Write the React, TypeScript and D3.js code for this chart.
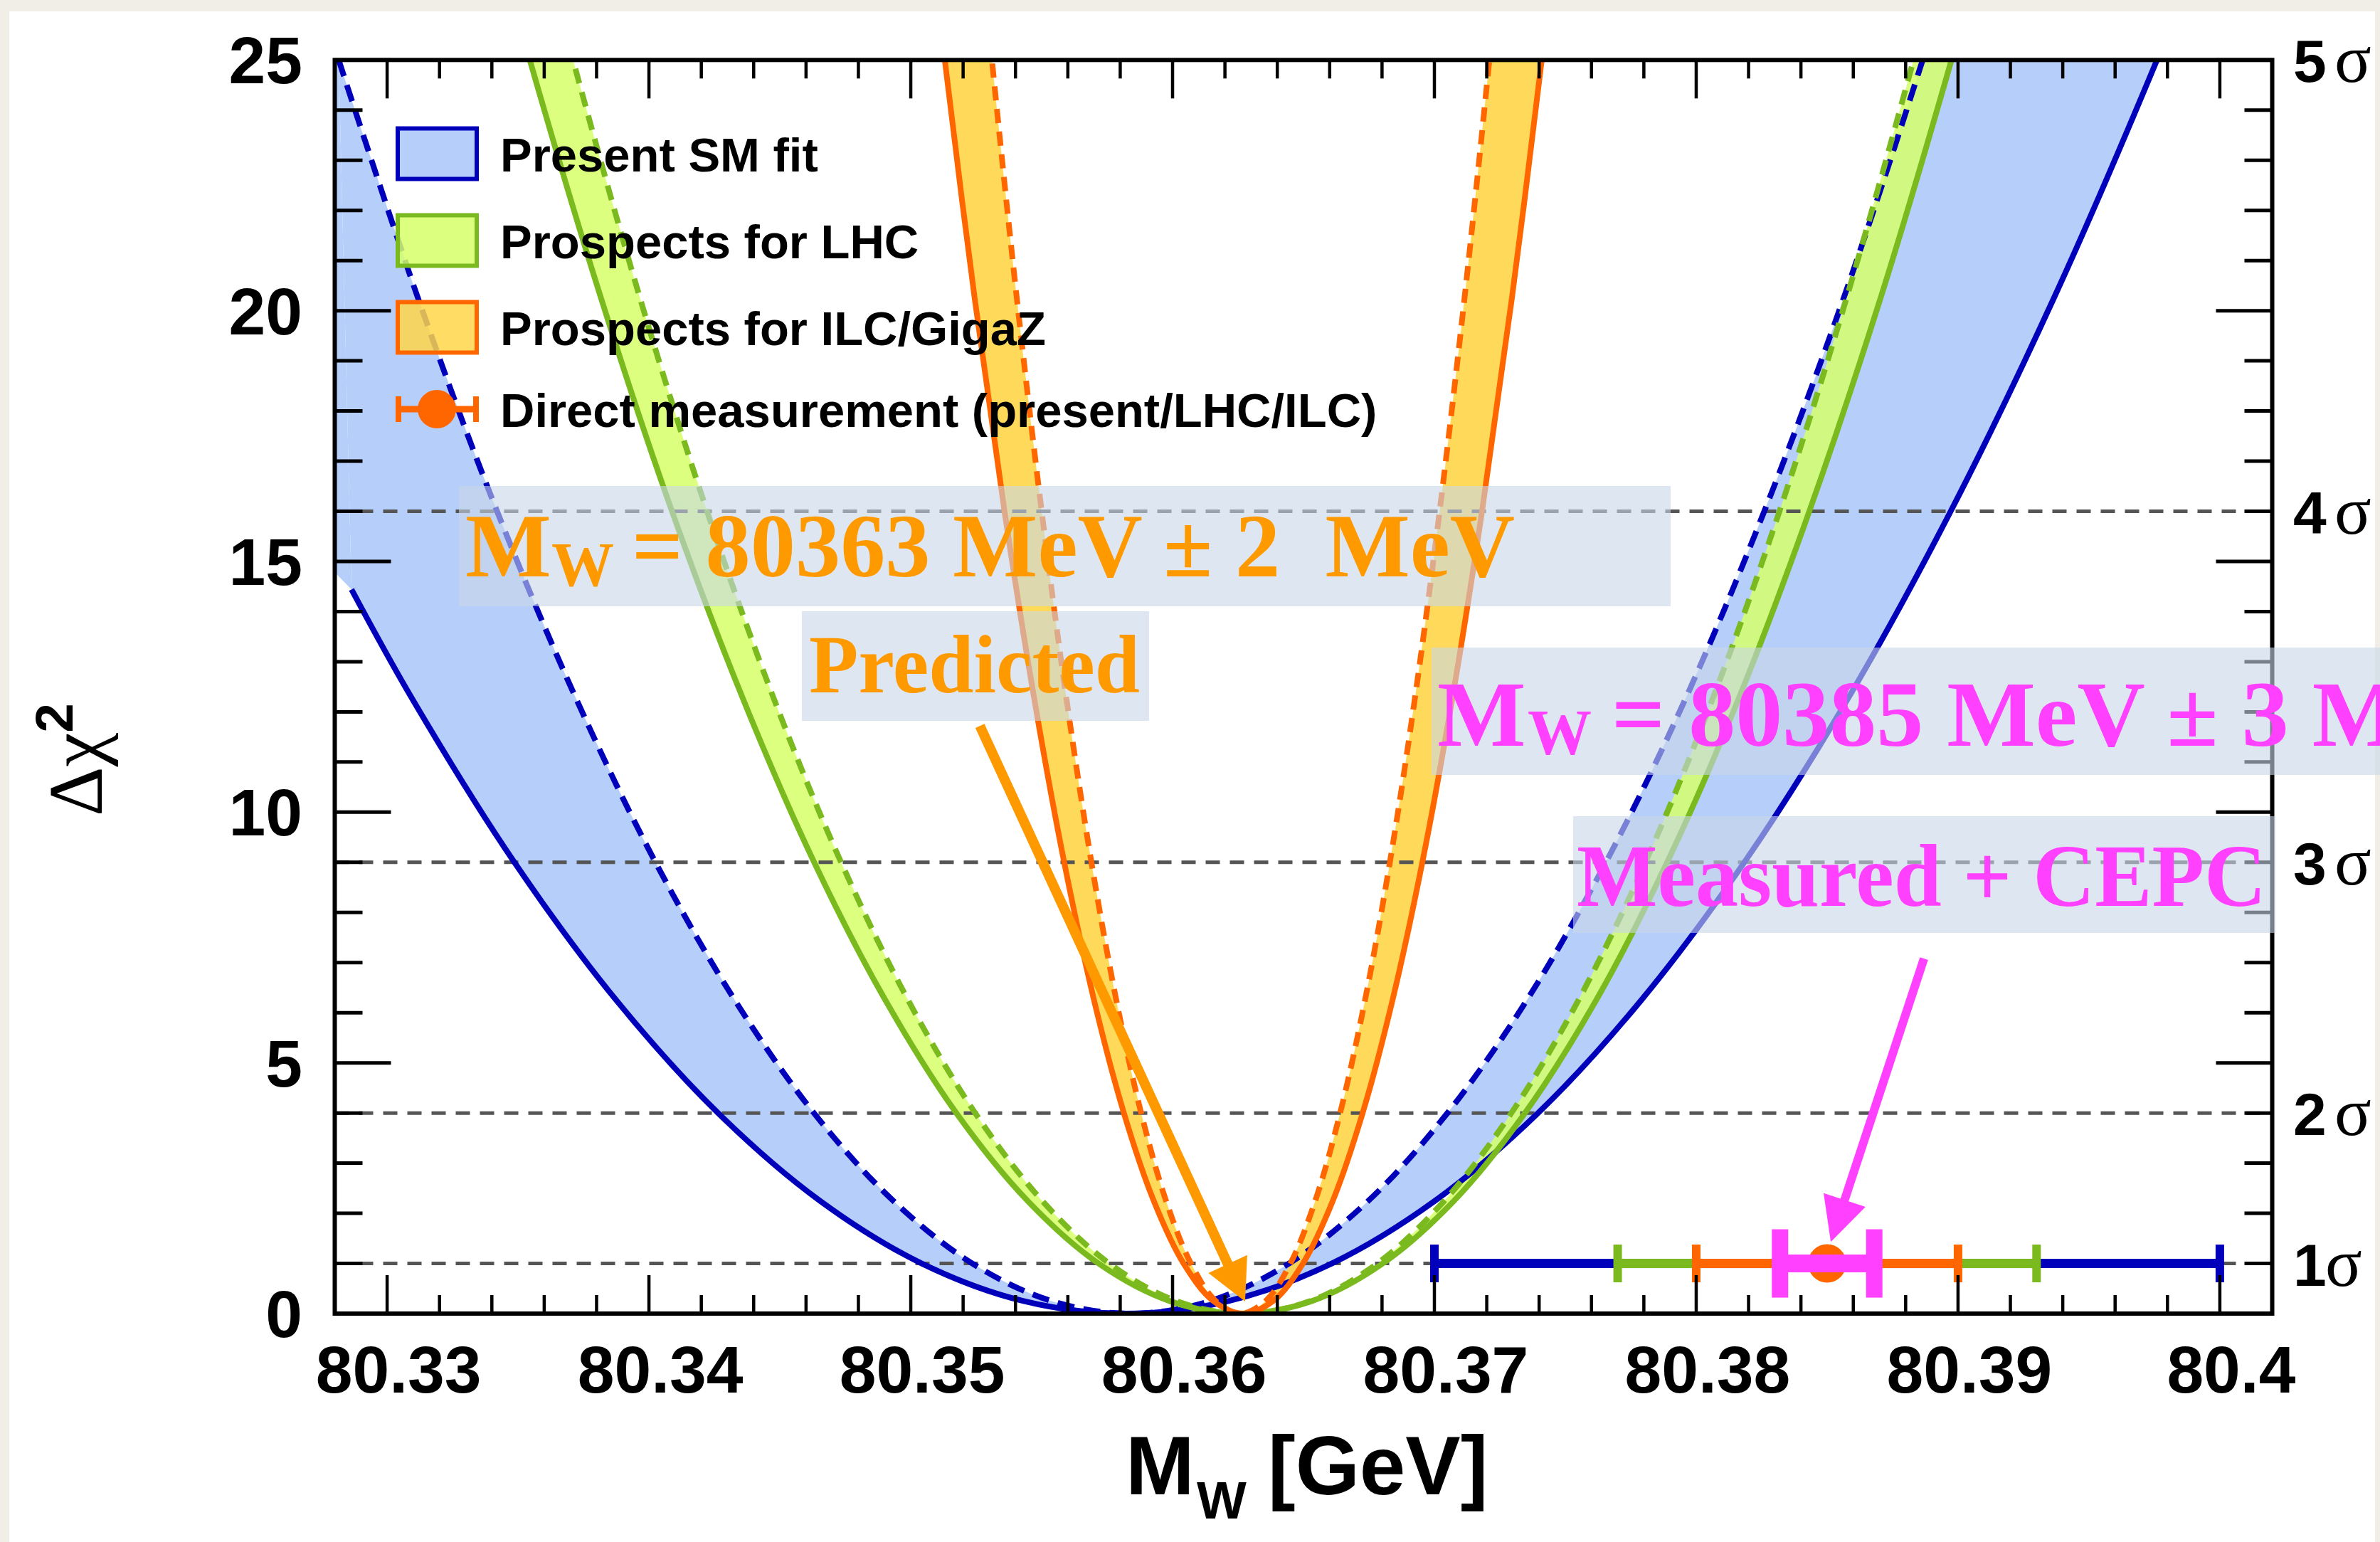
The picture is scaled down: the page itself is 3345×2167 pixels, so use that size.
import React from "react";
import * as d3 from "d3";

const WIDTH = 3345;
const HEIGHT = 2167;

const X_DOMAIN: [number, number] = [80.328, 80.402];
const Y_DOMAIN: [number, number] = [0, 25];

const xMajorTicks = [80.33, 80.34, 80.35, 80.36, 80.37, 80.38, 80.39, 80.4];
const xTickLabels = ["80.33", "80.34", "80.35", "80.36", "80.37", "80.38", "80.39", "80.4"];
const yMajorTicks = [0, 5, 10, 15, 20, 25];
const yTickLabels = ["0", "5", "10", "15", "20", "25"];
const sigmaLevels = [1, 4, 9, 16, 25];
const sigmaNumbers = ["1", "2", "3", "4", "5"];
const sigmaLines = [1, 4, 9, 16];

type P = [number, number];

// Present SM fit (blue): solid and dashed
const smFitSolid: P[] = [
  [80.32864, 14.44], [80.33097, 12.25], [80.33486, 9.0], [80.33875, 6.25], [80.34264, 4.0],
  [80.34653, 2.25], [80.35042, 1.0], [80.35431, 0.25], [80.3582, 0.0], [80.36214, 0.25],
  [80.36608, 1.0], [80.37002, 2.25], [80.37396, 4.0], [80.3779, 6.25], [80.38184, 9.0],
  [80.38578, 12.25], [80.38972, 16.0], [80.39366, 20.25], [80.3976, 25.0], [80.39996, 28.09],
];
const smFitDashed: P[] = [
  [80.32815, 25.0], [80.33118, 20.25], [80.3342, 16.0], [80.33723, 12.25], [80.34025, 9.0],
  [80.34328, 6.25], [80.3463, 4.0], [80.34933, 2.25], [80.35235, 1.0], [80.35538, 0.25],
  [80.3584, 0.0], [80.36143, 0.25], [80.36445, 1.0], [80.36748, 2.25], [80.3705, 4.0],
  [80.37353, 6.25], [80.37655, 9.0], [80.37958, 12.25], [80.3826, 16.0], [80.38563, 20.25],
  [80.38865, 25.0], [80.39047, 28.09],
];
// where the blue band meets the left frame (band reaches the frame above Δχ² ≈ 15)
const smFitBandLeftEdge: P[] = [[80.3276, 15.0], [80.3276, 26.0]];

// Prospects for LHC (green)
const lhcSolid: P[] = [
  [80.33382, 28.09], [80.33545, 25.0], [80.33817, 20.25], [80.34088, 16.0], [80.3436, 12.25],
  [80.34631, 9.0], [80.34903, 6.25], [80.35174, 4.0], [80.35446, 2.25], [80.35717, 1.0],
  [80.35989, 0.25], [80.3626, 0.0], [80.36532, 0.25], [80.36803, 1.0], [80.37075, 2.25],
  [80.37346, 4.0], [80.37618, 6.25], [80.37889, 9.0], [80.38161, 12.25], [80.38432, 16.0],
  [80.38704, 20.25], [80.38975, 25.0], [80.39138, 28.09],
];
const lhcDashed: P[] = [
  [80.33556, 28.09], [80.3371, 25.0], [80.33966, 20.25], [80.34222, 16.0], [80.34478, 12.25],
  [80.34734, 9.0], [80.3499, 6.25], [80.35246, 4.0], [80.35502, 2.25], [80.35758, 1.0],
  [80.36014, 0.25], [80.3627, 0.0], [80.36526, 0.25], [80.36782, 1.0], [80.37038, 2.25],
  [80.37294, 4.0], [80.3755, 6.25], [80.37806, 9.0], [80.38062, 12.25], [80.38318, 16.0],
  [80.38574, 20.25], [80.3883, 25.0], [80.38984, 28.09],
];
// Prospects for ILC/GigaZ (orange)
const ilcSolid: P[] = [
  [80.35062, 28.09], [80.3513, 25.0], [80.35244, 20.25], [80.35358, 16.0], [80.35472, 12.25],
  [80.35586, 9.0], [80.357, 6.25], [80.35814, 4.0], [80.35928, 2.25], [80.36042, 1.0],
  [80.36156, 0.25], [80.3627, 0.0], [80.36384, 0.25], [80.36498, 1.0], [80.36612, 2.25],
  [80.36726, 4.0], [80.3684, 6.25], [80.36954, 9.0], [80.37068, 12.25], [80.37182, 16.0],
  [80.37296, 20.25], [80.3741, 25.0], [80.37478, 28.09],
];
const ilcDashed: P[] = [
  [80.35253, 28.09], [80.3531, 25.0], [80.35405, 20.25], [80.355, 16.0], [80.35595, 12.25],
  [80.3569, 9.0], [80.35785, 6.25], [80.3588, 4.0], [80.35975, 2.25], [80.3607, 1.0],
  [80.36165, 0.25], [80.3626, 0.0], [80.36355, 0.25], [80.3645, 1.0], [80.36545, 2.25],
  [80.3664, 4.0], [80.36735, 6.25], [80.3683, 9.0], [80.36925, 12.25], [80.3702, 16.0],
  [80.37115, 20.25], [80.3721, 25.0], [80.37267, 28.09],
];

const legendLabels = [
  "Present SM fit",
  "Prospects for LHC",
  "Prospects for ILC/GigaZ",
  "Direct measurement (present/LHC/ILC)",
];

// Direct measurement error bars at Δχ² = 1
const measCentral = 80.385;
const measLevel = 1;
const measHalfErrors = [0.015, 0.008, 0.005, 0.0018];
const measColors = ["#0000bb", "#7aba1e", "#ff6600", "#ff40ff"];

const predictedArrow: P[] = [[80.35264, 11.72], [80.36277, 0.24]];
const measuredArrow: P[] = [[80.3887, 7.08], [80.38514, 1.43]];

const SANS = "'Liberation Sans', Arial, Helvetica, sans-serif";
const SERIF = "'Liberation Serif', 'Times New Roman', serif";

const BLUE = "#0000bb";
const BLUE_FILL = "#b6cefa";
const GREEN = "#7aba1e";
const GREEN_FILL = "#d6ff6a";
const ORANGE = "#ff6600";
const YELLOW_FILL = "#ffd648";
const ANNO_ORANGE = "#ff9900";
const MAGENTA = "#ff40ff";
const BOX_FILL = "#c8d7e8";

function arrow(x0: number, y0: number, x1: number, y1: number, headLen: number, headHalf: number) {
  const dx = x1 - x0;
  const dy = y1 - y0;
  const len = Math.hypot(dx, dy);
  const ux = dx / len;
  const uy = dy / len;
  const bx = x1 - ux * headLen;
  const by = y1 - uy * headLen;
  const px = -uy;
  const py = ux;
  const head = `${x1},${y1} ${bx + px * headHalf},${by + py * headHalf} ${bx - px * headHalf},${by - py * headHalf}`;
  return { shaft: { x1: x0, y1: y0, x2: bx + ux * 5, y2: by + uy * 5 }, head };
}

export default function App() {
  const left = 470.5;
  const right = 3193.5;
  const top = 84.3;
  const bottom = 1846;
  const x = d3.scaleLinear().domain(X_DOMAIN).range([left, right]);
  const y = d3.scaleLinear().domain(Y_DOMAIN).range([bottom, top]);

  const line = d3
    .line<P>()
    .x((d) => x(d[0]))
    .y((d) => y(d[1]))
    .curve(d3.curveCatmullRom.alpha(0.5));
  const band = (outer: P[], inner: P[]) => (line([...outer, ...inner.slice().reverse()]) || "") + "Z";
  const linear = d3.line<P>().x((d) => x(d[0])).y((d) => y(d[1]));

  const xTicksAll = d3.range(0, 36).map((i) => ({ v: 80.33 + i * 0.002, major: i % 5 === 0 }));
  const yTicksAll = d3.range(0, 26).map((i) => ({ v: i, major: i % 5 === 0 }));

  const legendRows = [216, 338, 460, 575];
  const yMeas = y(measLevel);

  const pa = arrow(x(predictedArrow[0][0]), y(predictedArrow[0][1]), x(predictedArrow[1][0]), y(predictedArrow[1][1]), 58, 30);
  const ma = arrow(x(measuredArrow[0][0]), y(measuredArrow[0][1]), x(measuredArrow[1][0]), y(measuredArrow[1][1]), 62, 31);

  const LW = 8;

  return (
    <svg
      width={WIDTH}
      height={HEIGHT}
      viewBox={`0 0 ${WIDTH} ${HEIGHT}`}
      style={{ position: "absolute", left: 0, top: 0, display: "block" }}
    >
      <defs>
        <clipPath id="plotClip">
          <rect x={left} y={top} width={right - left} height={bottom - top} />
        </clipPath>
      </defs>
      <rect x={0} y={0} width={WIDTH} height={HEIGHT} fill="#f1eee8" />
      <rect x={13} y={16} width={3325} height={HEIGHT - 16} fill="#ffffff" />

      <g clipPath="url(#plotClip)">
        <path d={band(smFitSolid, smFitDashed)} fill={BLUE_FILL} stroke="none" />
        <path
          d={(linear([smFitBandLeftEdge[0], smFitSolid[0], smFitDashed[0], smFitBandLeftEdge[1]]) || "") + "Z"}
          fill={BLUE_FILL}
          stroke="none"
        />
        <path d={band(lhcSolid, lhcDashed)} fill={GREEN_FILL} fillOpacity={0.85} stroke="none" />
        <path d={band(ilcSolid, ilcDashed)} fill={YELLOW_FILL} fillOpacity={0.9} stroke="none" />

        {sigmaLines.map((s) => (
          <line key={s} x1={left} x2={right} y1={y(s)} y2={y(s)} stroke="#555555" strokeWidth={5} strokeDasharray="20 14" />
        ))}

        <path d={line(smFitSolid) || ""} fill="none" stroke={BLUE} strokeWidth={LW} />
        <path d={line(smFitDashed) || ""} fill="none" stroke={BLUE} strokeWidth={LW} strokeDasharray="24 13" />
        <path d={line(lhcSolid) || ""} fill="none" stroke={GREEN} strokeWidth={LW} />
        <path d={line(lhcDashed) || ""} fill="none" stroke={GREEN} strokeWidth={LW} strokeDasharray="21 13" />
        <path d={line(ilcSolid) || ""} fill="none" stroke={ORANGE} strokeWidth={LW} />
        <path d={line(ilcDashed) || ""} fill="none" stroke={ORANGE} strokeWidth={LW} strokeDasharray="20 12" />

        {/* direct measurement error bars */}
        {measHalfErrors.map((e, i) => {
          const isC = i === 3;
          const th = isC ? 25 : 13;
          const capH = isC ? 96 : 53;
          const capW = isC ? 23 : 12;
          const xl = x(measCentral - e);
          const xr = x(measCentral + e);
          return (
            <g key={i}>
              {i === 3 && <circle cx={x(measCentral)} cy={yMeas} r={27} fill={ORANGE} />}
              <rect x={xl} y={yMeas - th / 2} width={xr - xl} height={th} fill={measColors[i]} />
              <rect x={xl - capW / 2} y={yMeas - capH / 2} width={capW} height={capH} fill={measColors[i]} />
              <rect x={xr - capW / 2} y={yMeas - capH / 2} width={capW} height={capH} fill={measColors[i]} />
            </g>
          );
        })}
      </g>

      {/* arrows */}
      <line {...pa.shaft} stroke={ANNO_ORANGE} strokeWidth={14} />
      <polygon points={pa.head} fill={ANNO_ORANGE} />
      <line {...ma.shaft} stroke={MAGENTA} strokeWidth={12} />
      <polygon points={ma.head} fill={MAGENTA} />

      {/* frame and ticks */}
      <g stroke="#000" fill="none">
        {xTicksAll.map((t, i) => {
          const len = t.major ? 54 : 26;
          const xx = x(t.v);
          return (
            <g key={i}>
              <line x1={xx} x2={xx} y1={bottom} y2={bottom - len} strokeWidth={4.5} />
              <line x1={xx} x2={xx} y1={top} y2={top + len} strokeWidth={4.5} />
            </g>
          );
        })}
        {yTicksAll.map((t, i) => {
          const len = t.major ? 79 : 39;
          const yy = y(t.v);
          return (
            <g key={i}>
              <line x1={left} x2={left + len} y1={yy} y2={yy} strokeWidth={5} />
              <line x1={right} x2={right - len} y1={yy} y2={yy} strokeWidth={5} />
            </g>
          );
        })}
        <rect x={left} y={top} width={right - left} height={bottom - top} strokeWidth={6} />
      </g>

      {/* tick labels */}
      <g fontFamily={SANS} fontWeight="bold" fontSize={93} fill="#000">
        {yMajorTicks.map((v, i) => (
          <text key={v} x={425} y={y(v) + 33} textAnchor="end">
            {yTickLabels[i]}
          </text>
        ))}
        {xMajorTicks.map((v, i) => (
          <text key={v} x={x(v) + 16} y={1957} textAnchor="middle">
            {xTickLabels[i]}
          </text>
        ))}
      </g>

      {/* sigma labels on the right */}
      {sigmaLevels.map((s, i) => (
        <g key={s}>
          <text x={3223} y={y(s) + 31} fontFamily={SANS} fontWeight="bold" fontSize={84}>
            {sigmaNumbers[i]}
          </text>
          <text x={i === 0 ? 3268 : 3281} y={y(s) + 31} fontFamily={SERIF} fontSize={96}>
            σ
          </text>
        </g>
      ))}

      {/* axis titles */}
      <g fontFamily={SANS} fontWeight="bold" fill="#000">
        <text x={1582} y={2100} fontSize={116}>M</text>
        <text x={1682} y={2134} fontSize={74}>W</text>
        <text x={1782} y={2100} fontSize={116}>[GeV]</text>
      </g>
      <text transform="translate(143,1147) rotate(-90)" fill="#000">
        <tspan fontFamily={SERIF} fontSize={108}>Δχ</tspan>
        <tspan fontFamily={SANS} fontWeight="bold" fontSize={74} dy={-41}>2</tspan>
      </text>

      {/* legend */}
      <g>
        <rect x={559} y={legendRows[0] - 35.5} width={111} height={71} fill={BLUE_FILL} stroke={BLUE} strokeWidth={6} />
        <rect x={559} y={legendRows[1] - 35.5} width={111} height={71} fill={GREEN_FILL} fillOpacity={0.85} stroke={GREEN} strokeWidth={6} />
        <rect x={559} y={legendRows[2] - 35.5} width={111} height={71} fill={YELLOW_FILL} fillOpacity={0.85} stroke={ORANGE} strokeWidth={6} />
        <line x1={558} x2={671} y1={legendRows[3]} y2={legendRows[3]} stroke={ORANGE} strokeWidth={9} />
        <line x1={560} x2={560} y1={legendRows[3] - 18} y2={legendRows[3] + 18} stroke={ORANGE} strokeWidth={8} />
        <line x1={669} x2={669} y1={legendRows[3] - 18} y2={legendRows[3] + 18} stroke={ORANGE} strokeWidth={8} />
        <circle cx={614} cy={legendRows[3]} r={27} fill={ORANGE} />
        {legendLabels.map((t, i) => (
          <text key={t} x={703} y={legendRows[i] + 25} fontFamily={SANS} fontWeight="bold" fontSize={67} fill="#000">
            {t}
          </text>
        ))}
      </g>

      {/* annotation boxes */}
      <rect x={645} y={683} width={1703} height={169} fill={BOX_FILL} fillOpacity={0.6} />
      <rect x={1127} y={859} width={488} height={154} fill={BOX_FILL} fillOpacity={0.6} />
      <rect x={2012} y={910} width={1400} height={179} fill={BOX_FILL} fillOpacity={0.6} />
      <rect x={2211} y={1147} width={987} height={164} fill={BOX_FILL} fillOpacity={0.6} />

      <g fontFamily={SERIF} fontWeight="bold" fill={ANNO_ORANGE} style={{ whiteSpace: "pre" }}>
        <text x={654} y={810} fontSize={128}>M</text>
        <text x={775} y={823} fontSize={88}>W</text>
        <text x={888} y={810} fontSize={128} textLength={1241} lengthAdjust="spacingAndGlyphs" xmlSpace="preserve">
          {"= 80363 MeV ± 2  MeV"}
        </text>
        <text x={1137} y={973} fontSize={116} textLength={465} lengthAdjust="spacingAndGlyphs">
          Predicted
        </text>
      </g>
      <g fontFamily={SERIF} fontWeight="bold" fill={MAGENTA} style={{ whiteSpace: "pre" }}>
        <text x={2020} y={1048} fontSize={132}>M</text>
        <text x={2147} y={1060} fontSize={90}>W</text>
        <text x={2265} y={1048} fontSize={132} xmlSpace="preserve">
          {"= 80385 MeV ± 3 MeV"}
        </text>
        <text x={2216} y={1273} fontSize={124} textLength={969} lengthAdjust="spacingAndGlyphs">
          Measured + CEPC
        </text>
      </g>
    </svg>
  );
}
